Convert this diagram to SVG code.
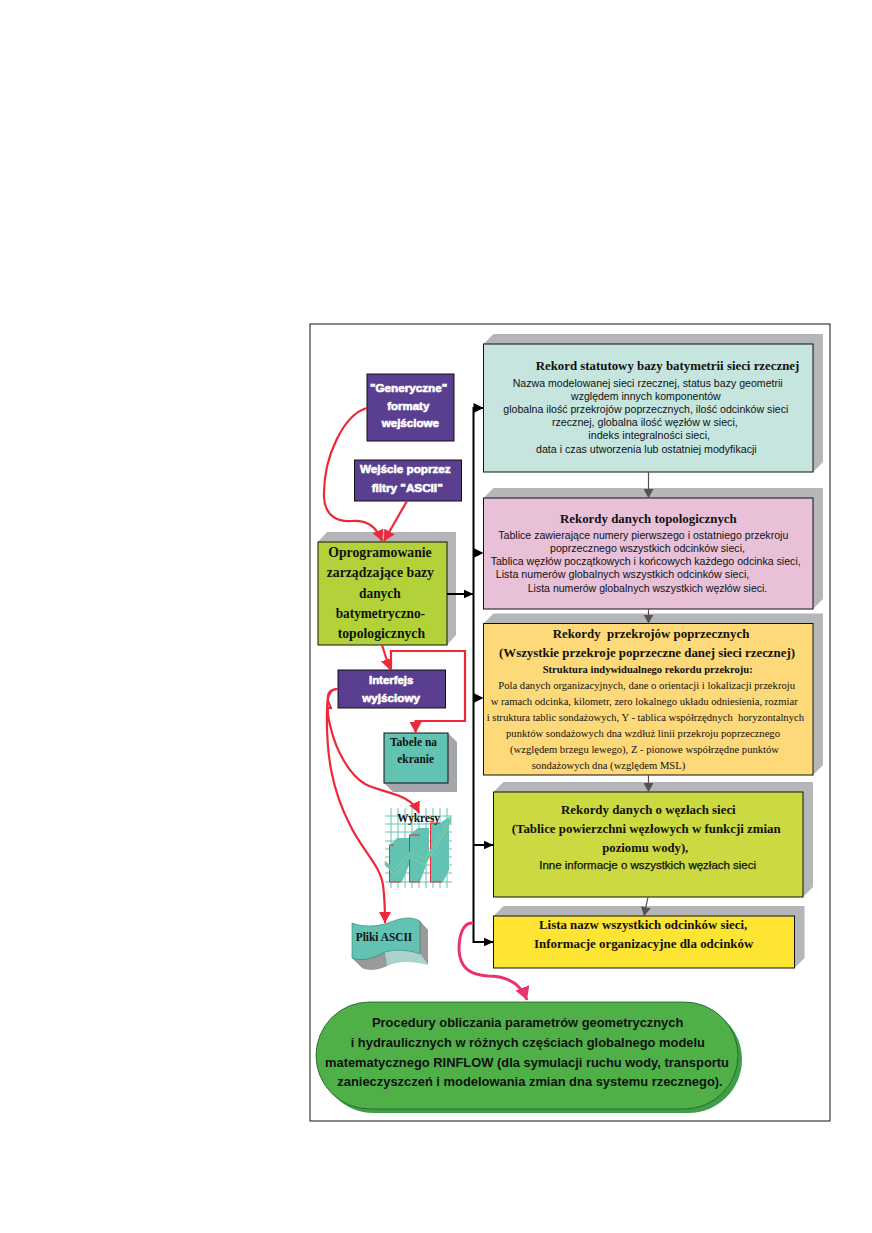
<svg xmlns="http://www.w3.org/2000/svg" width="872" height="1233" viewBox="0 0 872 1233">
<style>
text{white-space:pre;fill:#111}
.t{font-family:"Liberation Serif",serif;font-weight:bold;font-size:13px}
.s{font-family:"Liberation Serif",serif;font-weight:bold;font-size:14.5px}
.ts{font-family:"Liberation Serif",serif;font-weight:bold;font-size:10.8px}
.b{font-family:"Liberation Serif",serif;font-size:10.6px}
.a{font-family:"Liberation Sans",Arial,sans-serif;font-size:10.7px}
.ab{font-family:"Liberation Sans",Arial,sans-serif;font-size:10.4px;stroke:#111;stroke-width:.25}
.p{font-family:"Liberation Sans",Arial,sans-serif;font-weight:bold;font-size:13.3px}
.w{font-family:"Liberation Sans",Arial,sans-serif;font-weight:bold;font-size:11.4px;fill:#fff;stroke:#fff;stroke-width:.6}
.front{stroke:#111;stroke-width:1}
.side{fill:#b4b6ba}
.pur{fill:#5a3f91;stroke:#111;stroke-width:1}
.red{fill:none;stroke:#ed2939;stroke-width:2.2}
.pink{fill:none;stroke:#e8336b;stroke-width:3}
.blk{fill:none;stroke:#000;stroke-width:2}
.gry{fill:none;stroke:#58504e;stroke-width:1.2}
.grid line{stroke:#63c3b3;stroke-width:1}
</style>
<defs>
<marker id="hb" markerUnits="userSpaceOnUse" markerWidth="10" markerHeight="10" refX="10" refY="5" orient="auto"><path d="M0,0.500L10,5L0,9.500z" fill="#000"/></marker>
<marker id="hg" markerUnits="userSpaceOnUse" markerWidth="10" markerHeight="10" refX="9" refY="5" orient="auto"><path d="M0,0L9,5L0,10z" fill="#58504e"/></marker>
<marker id="hr" markerUnits="userSpaceOnUse" markerWidth="12" markerHeight="13" refX="11" refY="6" orient="auto"><path d="M0,0L11,6L0,12z" fill="#ed2939"/></marker>
<marker id="hp" markerUnits="userSpaceOnUse" markerWidth="14" markerHeight="16" refX="13" refY="7.500" orient="auto"><path d="M0,0L13,7.500L0,15z" fill="#e8336b"/></marker>
</defs>
<rect width="872" height="1233" fill="#fff"/>
<rect x="310" y="324" width="520" height="797" fill="none" stroke="#111" stroke-width="1"/>

<g id="rekord-statutowy">
<path class="side" d="M483.500,344L493.500,334H823V462L813,472V344z"/>
<rect class="front" x="483.500" y="344" width="329.500" height="128" fill="#c6e5df"/>
<text class="t" x="535.700" y="370" textLength="263.600" lengthAdjust="spacingAndGlyphs">Rekord statutowy bazy batymetrii sieci rzecznej</text>
<text class="a" x="512.700" y="386.700" textLength="270" lengthAdjust="spacingAndGlyphs">Nazwa modelowanej sieci rzecznej, status bazy geometrii</text>
<text class="a" x="571" y="400" textLength="149.700" lengthAdjust="spacingAndGlyphs">względem innych komponentów</text>
<text class="a" x="503.300" y="412.700" textLength="285" lengthAdjust="spacingAndGlyphs">globalna ilość przekrojów poprzecznych, ilość odcinków sieci</text>
<text class="a" x="552" y="426" textLength="185.700" lengthAdjust="spacingAndGlyphs">rzecznej, globalna ilość węzłów w sieci,</text>
<text class="a" x="588.300" y="439.300" textLength="121.700" lengthAdjust="spacingAndGlyphs">indeks integralności sieci,</text>
<text class="a" x="536" y="452.700" textLength="220.700" lengthAdjust="spacingAndGlyphs">data i czas utworzenia lub ostatniej modyfikacji</text>
</g>

<g id="rekordy-topologiczne">
<path class="side" d="M483.500,498L493.500,488H823V599L813,609V498z"/>
<rect class="front" x="483.500" y="498" width="329.500" height="111" fill="#e8c1d9"/>
<text class="t" x="560" y="522.700" textLength="176.700" lengthAdjust="spacingAndGlyphs">Rekordy danych topologicznych</text>
<text class="a" x="498.300" y="539.300" textLength="290" lengthAdjust="spacingAndGlyphs">Tablice zawierające numery pierwszego i ostatniego przekroju</text>
<text class="a" x="550" y="552.300" textLength="195" lengthAdjust="spacingAndGlyphs">poprzecznego wszystkich odcinków sieci,</text>
<text class="a" x="490.700" y="565.300" textLength="310" lengthAdjust="spacingAndGlyphs">Tablica węzłów początkowych i końcowych każdego odcinka sieci,</text>
<text class="a" x="495.700" y="578.300" textLength="253.600" lengthAdjust="spacingAndGlyphs">Lista numerów globalnych wszystkich odcinków sieci,</text>
<text class="a" x="527.700" y="591.700" textLength="239.600" lengthAdjust="spacingAndGlyphs">Lista numerów globalnych wszystkich węzłów sieci.</text>
</g>

<g id="rekordy-przekrojow">
<path class="side" d="M483.500,623.500L493.500,613.500H823V765L813,775V623.500z"/>
<rect class="front" x="483.500" y="623.500" width="329.500" height="151.500" fill="#fdd97a"/>
<text class="t" x="552.700" y="637.700" textLength="196.600" lengthAdjust="spacingAndGlyphs">Rekordy  przekrojów poprzecznych</text>
<text class="t" x="499" y="656.700" textLength="296" lengthAdjust="spacingAndGlyphs">(Wszystkie przekroje poprzeczne danej sieci rzecznej)</text>
<text class="ts" x="542.700" y="673.300" textLength="210" lengthAdjust="spacingAndGlyphs">Struktura indywidualnego rekordu przekroju:</text>
<text class="b" x="498.300" y="689.300" textLength="296.700" lengthAdjust="spacingAndGlyphs">Pola danych organizacyjnych, dane o orientacji i lokalizacji przekroju</text>
<text class="b" x="490.700" y="705.300" textLength="307" lengthAdjust="spacingAndGlyphs">w ramach odcinka, kilometr, zero lokalnego układu odniesienia, rozmiar</text>
<text class="b" x="486.700" y="721.300" textLength="317.300" lengthAdjust="spacingAndGlyphs">i struktura tablic sondażowych, Y - tablica współrzędnych  horyzontalnych</text>
<text class="b" x="506" y="737.300" textLength="274" lengthAdjust="spacingAndGlyphs">punktów sondażowych dna wzdłuż linii przekroju poprzecznego</text>
<text class="b" x="510" y="753.300" textLength="269" lengthAdjust="spacingAndGlyphs">(względem brzegu lewego), Z - pionowe współrzędne punktów</text>
<text class="b" x="531.700" y="769.300" textLength="153.600" lengthAdjust="spacingAndGlyphs">sondażowych dna (względem MSL)</text>
</g>

<g id="rekordy-wezly">
<path class="side" d="M493.500,792L503.500,782H813V887L803,897V792z"/>
<rect class="front" x="493.500" y="792" width="309.500" height="105" fill="#cdd941"/>
<text class="t" x="561" y="814" textLength="174.700" lengthAdjust="spacingAndGlyphs">Rekordy danych o węzłach sieci</text>
<text class="t" x="511.700" y="832.700" textLength="269" lengthAdjust="spacingAndGlyphs">(Tablice powierzchni węzłowych w funkcji zmian</text>
<text class="t" x="602.300" y="851.700" textLength="86" lengthAdjust="spacingAndGlyphs">poziomu wody),</text>
<text class="ab" x="539.300" y="869.300" textLength="216.700" lengthAdjust="spacingAndGlyphs">Inne informacje o wszystkich węzłach sieci</text>
</g>

<g id="lista-odcinkow">
<path class="side" d="M493.500,916L503.500,906H804.500V958L794.500,968V916z"/>
<rect class="front" x="493.500" y="916" width="301" height="52" fill="#fee433"/>
<text class="t" x="539" y="929.300" textLength="208.300" lengthAdjust="spacingAndGlyphs">Lista nazw wszystkich odcinków sieci,</text>
<text class="t" x="534" y="948.300" textLength="219.300" lengthAdjust="spacingAndGlyphs">Informacje organizacyjne dla odcinków</text>
</g>

<g id="oprogramowanie">
<path class="side" d="M318,542L327,532H456V635L447,645V542z"/>
<rect class="front" x="318" y="542" width="129" height="103" fill="#b3d23a"/>
<text class="s" x="328.300" y="556.700" textLength="103.400" lengthAdjust="spacingAndGlyphs">Oprogramowanie</text>
<text class="s" x="326.700" y="577.300" textLength="107.300" lengthAdjust="spacingAndGlyphs">zarządzające bazy</text>
<text class="s" x="359" y="597.700" textLength="41.700" lengthAdjust="spacingAndGlyphs">danych</text>
<text class="s" x="335.700" y="618.300" textLength="89.300" lengthAdjust="spacingAndGlyphs">batymetryczno-</text>
<text class="s" x="337.700" y="638.300" textLength="87.300" lengthAdjust="spacingAndGlyphs">topologicznych</text>
</g>

<g id="formaty-wejsciowe">
<rect class="pur" x="367" y="374" width="87" height="67"/>
<text class="w" x="370" y="391.700" textLength="77.300" lengthAdjust="spacingAndGlyphs">"Generyczne"</text>
<text class="w" x="387.300" y="410" textLength="42" lengthAdjust="spacingAndGlyphs">formaty</text>
<text class="w" x="381.700" y="427.300" textLength="57.300" lengthAdjust="spacingAndGlyphs">wejściowe</text>
</g>

<g id="filtry-ascii">
<rect class="pur" x="354.500" y="460" width="107" height="41"/>
<text class="w" x="360" y="473.300" textLength="90.700" lengthAdjust="spacingAndGlyphs">Wejście poprzez</text>
<text class="w" x="371.700" y="492.300" textLength="71" lengthAdjust="spacingAndGlyphs">filtry "ASCII"</text>
</g>

<g id="interfejs">
<rect class="pur" x="338" y="670" width="107.500" height="38"/>
<text class="w" x="369" y="684" textLength="44.300" lengthAdjust="spacingAndGlyphs">Interfejs</text>
<text class="w" x="362.300" y="701.700" textLength="57.700" lengthAdjust="spacingAndGlyphs">wyjściowy</text>
</g>

<g id="tabele">
<path fill="#a3a6ab" d="M448,733L457,742V792H393L384,783H448z"/>
<rect class="front" x="384" y="733" width="64" height="50" fill="#63c3b3"/>
<text class="t" x="390" y="745.700" textLength="47" lengthAdjust="spacingAndGlyphs">Tabele na</text>
<text class="t" x="397.300" y="762.700" textLength="36.700" lengthAdjust="spacingAndGlyphs">ekranie</text>
</g>

<g id="wykresy">
<g class="grid">
<line x1="385" x2="452" y1="816" y2="816"/><line x1="385" x2="452" y1="824" y2="824"/><line x1="385" x2="452" y1="832" y2="832"/><line x1="385" x2="452" y1="841" y2="841"/><line x1="385" x2="452" y1="849" y2="849"/><line x1="385" x2="452" y1="857" y2="857"/><line x1="385" x2="452" y1="865" y2="865"/><line x1="385" x2="452" y1="873" y2="873"/><line x1="385" x2="452" y1="882" y2="882"/>
<line y1="808" y2="888" x1="391" x2="391"/><line y1="808" y2="888" x1="398" x2="398"/><line y1="808" y2="888" x1="405" x2="405"/><line y1="808" y2="888" x1="412" x2="412"/><line y1="808" y2="888" x1="419" x2="419"/><line y1="808" y2="888" x1="426" x2="426"/><line y1="808" y2="888" x1="433" x2="433"/><line y1="808" y2="888" x1="440" x2="440"/><line y1="808" y2="888" x1="447" x2="447"/>
</g>
<path fill="#63c3b3" d="M390,845L397,838H409V865L402,882H390zM409,835L418,828H429V857L420,882H409zM430,823H440L449,817V870L443,882H430z"/>
<path fill="none" stroke="#ed2939" d="M394,845H389.500V882H401M420,835H409.500V882H420M440,823H430.500V882H442"/>
<path fill="#63c3b3" stroke="#8fce9b" stroke-width=".8" d="M385,861L395,870L410,852L425,859L451,816V822L425,865L410,858L395,875L385,865z"/>
<text class="t" x="397.300" y="821.700" textLength="42.700" lengthAdjust="spacingAndGlyphs">Wykresy</text>
</g>

<g id="pliki-ascii">
<path fill="#9a9a9a" d="M352,958L362,968C372,972 380,969 387,966C392,962 385,952 385,952zM420,921L428,930V965L420,954z"/>
<path fill="#a9d3cc" d="M385,952C395,949 410,950 420,954L428,965C412,961 398,961 387,966z"/>
<path fill="#63c3b3" stroke="#2d7d70" stroke-width=".6" d="M352,923C362,927 375,927 388,923C398,919 410,915 420,921V954C410,950 395,949 385,952C375,958 362,962 352,958z"/>
<text class="t" x="355.700" y="941" textLength="56.600" lengthAdjust="spacingAndGlyphs">Pliki ASCII</text>
</g>

<g id="procedury">
<rect x="320" y="1006" width="422" height="107" rx="53.500" fill="#3f9e48"/>
<rect x="316" y="1002" width="422" height="107" rx="53.500" fill="#4fb048" stroke="#1f5a2a" stroke-width=".8"/>
<text class="p" x="372" y="1027.300" textLength="311.300" lengthAdjust="spacingAndGlyphs">Procedury obliczania parametrów geometrycznych</text>
<text class="p" x="350.700" y="1046.700" textLength="354.300" lengthAdjust="spacingAndGlyphs">i hydraulicznych w różnych częściach globalnego modelu</text>
<text class="p" x="325" y="1066.700" textLength="404" lengthAdjust="spacingAndGlyphs">matematycznego RINFLOW (dla symulacji ruchu wody, transportu</text>
<text class="p" x="337.300" y="1086" textLength="385.400" lengthAdjust="spacingAndGlyphs">zanieczyszczeń i modelowania zmian dna systemu rzecznego).</text>
</g>

<g id="connectors">
<path class="blk" d="M483.500,408H473.500V942H493.500" marker-end="url(#hb)"/>
<path d="M473.500,403L483.500,408L473.500,413z" fill="#000"/>
<path d="M473.500,548L483.500,553L473.500,558z" fill="#000"/>
<path d="M473.500,693L483.500,698L473.500,703z" fill="#000"/>
<path class="blk" d="M447,594H473.500" marker-end="url(#hb)"/>
<path class="blk" d="M473.500,845H493.500" marker-end="url(#hb)"/>
<path class="gry" d="M648.500,472V498" marker-end="url(#hg)"/>
<path class="gry" d="M648.500,609V623.500" marker-end="url(#hg)"/>
<path class="gry" d="M648.500,775V792" marker-end="url(#hg)"/>
<path class="gry" d="M648,897L644,916" marker-end="url(#hg)"/>
<path class="red" d="M367,408C345,414 323,455 324,497C325,518 340,522 352,521C367,520 376,526 382,541" marker-end="url(#hr)"/>
<path class="red" d="M407,501L384,541" marker-end="url(#hr)"/>
<path class="red" d="M382,645L390,670" marker-end="url(#hr)"/>
<path class="red" d="M391,670V651H465V721H415.600V733" marker-end="url(#hr)"/>
<path class="red" d="M338,689C330,689 327,693 328,700C329,707 333,709 330,708C327,706 327,712 330,725C336,752 350,775 365,784C385,794 410,793 419,813" marker-end="url(#hr)"/>
<path class="red" d="M338,689C330,689 327,695 327,710C326,755 332,790 350,825C362,850 380,865 383,885C385,900 385,912 385,923" marker-end="url(#hr)"/>
<path class="pink" d="M473,923C463,922 459,935 459,950C460,968 470,975 488,976C505,976 520,982 527,1000" marker-end="url(#hp)"/>
</g>
</svg>
